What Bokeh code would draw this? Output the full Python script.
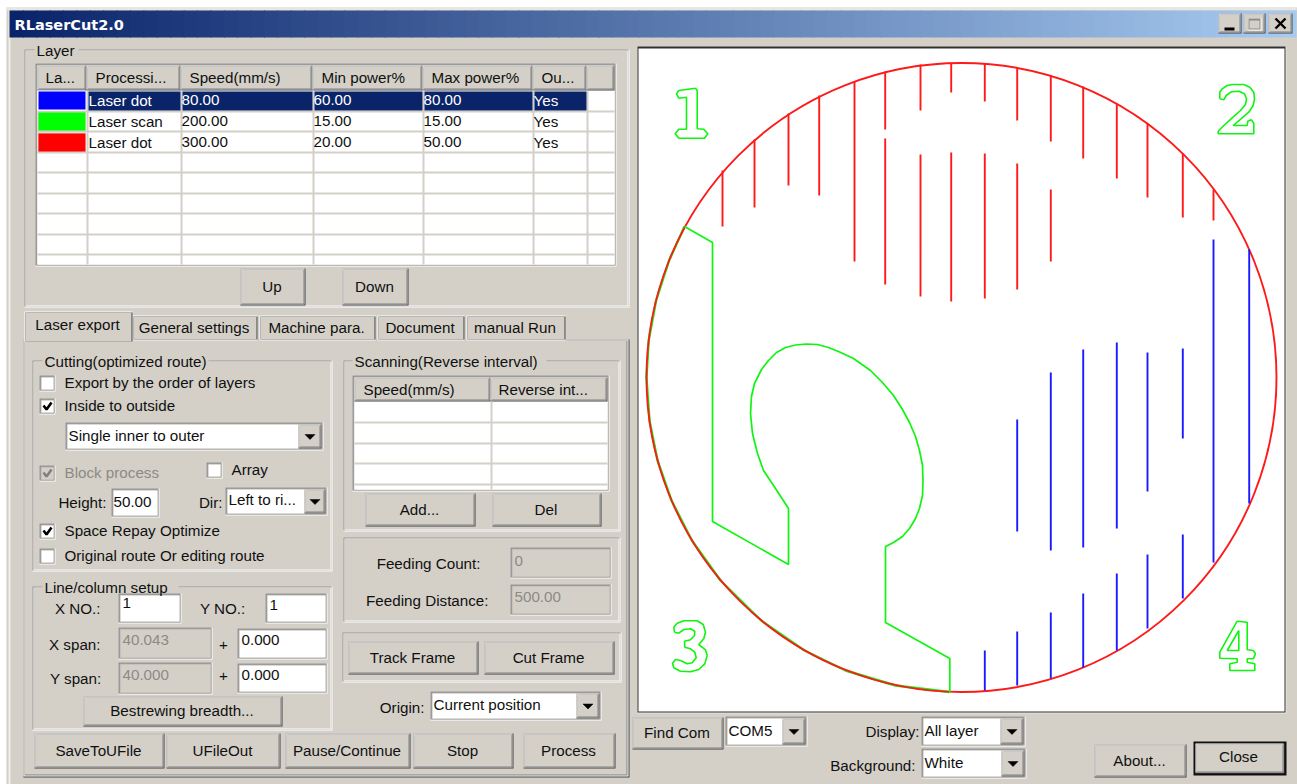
from bokeh.plotting import figure
from bokeh.models import ColumnDataSource
from bokeh.core.properties import value
from bokeh.embed import file_html
from bokeh.resources import INLINE

# ---- table content ----
layer_headers = ["La...", "Processi...", "Speed(mm/s)", "Min power%", "Max power%", "Ou..."]
layer_colors = ["#0000FF", "#00FF00", "#FF0000"]
layer_modes = ["Laser dot", "Laser scan", "Laser dot"]
layer_speeds = ["80.00", "200.00", "300.00"]
layer_min_power = ["60.00", "15.00", "20.00"]
layer_max_power = ["80.00", "15.00", "50.00"]
layer_output = ["Yes", "Yes", "Yes"]
tab_labels = ["Laser export", "General settings", "Machine para.", "Document", "manual Run"]

# ---- drawing (screen pixels of the reference) ----
circle_center = (961, 377)
circle_size = (630, 629)

red_x = [722, 754, 788, 818.7, 854, 884.7, 884.7, 920, 920, 950.7, 950.7, 984.3, 984.3,
         1016.7, 1016.7, 1050.3, 1050.3, 1082.7, 1116.3, 1147, 1182.3, 1213]
red_top = [170, 139, 113, 95, 81, 71, 138, 64, 154, 63, 152, 63, 153, 67, 163, 75, 189, 86, 103, 123, 153, 189]
red_bottom = [226, 207, 185, 195, 261, 129, 284, 110, 296, 92, 301, 101, 298, 120, 289, 141, 261, 158, 178, 197, 217, 220]

blue_x = [984.3, 1016.7, 1016.7, 1050.3, 1050.3, 1082.7, 1082.7, 1116.3, 1116.3, 1147, 1147,
          1182.3, 1182.3, 1213, 1248.7]
blue_top = [650, 419, 631, 372, 612, 349, 593, 342, 573, 352, 554, 348, 534, 239, 249]
blue_bottom = [690, 531, 685, 550, 678, 547, 667, 528, 650, 491, 628, 438, 598, 562, 503]

green_outline_x = [684, 712, 712, 788, 788, 773, 763, 757, 752, 750, 751, 754, 761, 768, 776, 785, 795, 806, 817,
                   828, 838, 853, 870, 882, 893, 902, 909, 915, 919, 922, 922.5, 922, 919, 915, 909, 902, 893, 885,
                   885, 949.3, 949.3]
green_outline_y = [226, 242, 521, 564, 508, 485, 470, 453, 433, 413, 396, 383, 369, 360, 352, 347, 344.5, 343.5, 344,
                   347, 351, 358, 370, 382, 395, 409, 422, 436, 450, 465, 480, 495, 508, 518, 528, 536, 542, 546,
                   622, 658, 692]
green_arc_x = [949, 895, 845, 804, 760.6, 720, 691.4, 671, 657, 649, 646, 648.2, 655.6, 668.6, 684]
green_arc_y = [691.5, 685, 670, 650, 620, 580, 540, 500, 460, 420, 377, 340, 300, 260, 226]

digit_one_x = [695, 696.7, 696.7, 703.3, 707.3, 704, 678.3, 674.7, 678.3, 686, 686, 678.3, 676, 678.3, 695]
digit_one_y = [87.7, 90, 128.3, 128.7, 133.3, 137.7, 137.7, 133.3, 128.7, 128.7, 96.7, 97.7, 93.3, 90, 87.7]
digit_two_x = [1219.3, 1219.3, 1221.7, 1226.7, 1231.7, 1243.3, 1249.3, 1253.3, 1254, 1252.7, 1248.3, 1241.7, 1232.7,
               1246.7, 1247.3, 1250.7, 1253.3, 1253.3, 1217.7, 1217.7, 1223.3, 1231.7, 1240, 1245, 1246, 1244, 1238.3,
               1230.7, 1225.7, 1223.3, 1219.3]
digit_two_y = [98.3, 91.7, 88.3, 85, 84, 84, 86.7, 91.7, 98.3, 105, 111.7, 117.3, 125,
               125, 120.7, 119.3, 122.7, 133.3, 133.3, 130.7, 125, 117.3, 110, 104, 98.3, 93.3, 90.7,
               91.3, 95, 99.3, 98.3]
digit_three_x = [674, 673.3, 676.7, 683.3, 696.7, 702.7, 705, 703.3, 698.3, 705, 706.7, 704.3, 698.3, 690, 680, 673.3,
                 672, 675, 680, 686.7, 691.7, 695.7, 694.3, 690, 684.3, 684, 690, 694, 694.3, 690, 683.3, 678.3, 674]
digit_three_y = [631.7, 626.7, 622.7, 620.3, 620.3, 624, 631.7, 638.3, 644, 649.3, 655, 663.3, 669, 671.3, 670.7, 667.3,
                 662.7, 659, 660, 663.3, 662.3, 657.3, 651.7, 648.3, 646.7, 640.7, 639.3, 635, 630.7, 628.3, 629, 632.7,
                 631.7]
digit_four_x = [1236.7, 1246.7, 1246.7, 1252.7, 1255, 1252.7, 1246.7, 1246.7, 1254.3, 1254.3, 1229.3, 1229.3,
                1236.7, 1236.7, 1219.3, 1219.3, 1236.7]
digit_four_y = [620.7, 621.7, 649.3, 650, 653.3, 658.3, 658.3, 661.7, 663.3, 670, 670, 663.3, 661.7, 658.3, 657.7,
                651.7, 620.7]
digit_four_inner_x = [1238.3, 1238.3, 1226.7, 1238.3]
digit_four_inner_y = [630, 650, 650, 630]

# ---- widgets layer ----
BG, WHITE, MID, DARK, SOFT = "#D4D0C8", "#FFFFFF", "#808080", "#404040", "#A8A59F"
qx0, qy0, qx1, qy1, qc = [], [], [], [], []
tx, ty, ts, tc, ta = [], [], [], [], []


def R(x0, y0, x1, y1, c):
    qx0.append(x0); qy0.append(y0); qx1.append(x1); qy1.append(y1); qc.append(c)


def T(x, y, s, c="#101010", a="left"):
    tx.append(x - 1); ty.append(y - 1.5); ts.append(s); tc.append(c); ta.append(a)


def raised(x0, y0, x1, y1, label=None):
    R(x0, y0, x1, y1, DARK)
    R(x0, y0, x1 - 1, y1 - 1, WHITE)
    R(x0 + 1, y0 + 1, x1 - 1, y1 - 1, MID)
    R(x0 + 1, y0 + 1, x1 - 2, y1 - 2, BG)
    if label:
        T((x0 + x1) / 2, (y0 + y1) / 2 + 0.5, label, a="center")


def sunken(x0, y0, x1, y1, fill=WHITE):
    R(x0, y0, x1, y1, WHITE)
    R(x0, y0, x1 - 1, y1 - 1, MID)
    R(x0 + 1, y0 + 1, x1 - 1, y1 - 1, "#B8B5AE")
    R(x0 + 2, y0 + 2, x1 - 2, y1 - 2, fill)


def etched(x0, y0, x1, y1):
    R(x0, y0, x1, y1, WHITE)
    R(x0, y0, x1 - 1, y1 - 1, MID)
    R(x0 + 1, y0 + 1, x1 - 1, y1 - 1, WHITE)
    R(x0 + 1, y0 + 1, x1 - 2, y1 - 2, BG)


def legend(x0, x1, y, label):
    R(x0, y - 3, x1, y + 3, BG)
    T(x0 + 3, y + 1, label)


arrows_x, arrows_y = [], []


def combo(x0, y0, x1, y1, label, bw=23, ty_=None):
    sunken(x0, y0, x1, y1)
    raised(x1 - bw - 2, y0 + 2, x1 - 2, y1 - 2)
    cx = x1 - 2 - bw / 2
    cy = (y0 + y1) / 2
    arrows_x.append([cx - 5, cx + 5, cx])
    arrows_y.append([cy - 2, cy - 2, cy + 3])
    T(x0 + 4, ty_ if ty_ else cy, label)


checks_x, checks_y, checks_c = [], [], []


def checkbox(x0, y0, label, checked=False, enabled=True, size=16):
    sunken(x0, y0, x0 + size, y0 + size, WHITE if enabled else BG)
    if checked:
        checks_x.append([x0 + 4, x0 + 7, x0 + 12])
        checks_y.append([y0 + 7, y0 + 11, y0 + 4])
        checks_c.append("#000000" if enabled else MID)
    T(x0 + size + 10, y0 + 8, label, "#101010" if enabled else "#8C8A85")


# window
R(6, 7, 1297, 784, BG)
R(6, 7, 1296, 10, "#E8E6E0")
R(8, 10, 10, 784, "#EFEEEA")
steps = 96
c0 = (0x0A, 0x24, 0x6A)
c1 = (0xA6, 0xCA, 0xF0)
for i in range(steps):
    f = i / (steps - 1)
    col = "#%02X%02X%02X" % tuple(round(a + (b - a) * f) for a, b in zip(c0, c1))
    R(9 + (1295 - 9) * i / steps, 10, 9 + (1295 - 9) * (i + 1) / steps + 1, 37, col)

raised(1218, 13, 1241, 33)
R(1224, 27, 1234, 30, "#000000")
raised(1243, 13, 1265, 33)
R(1248, 18, 1261, 30, WHITE)
R(1248, 18, 1260, 29, "#8A8A8A")
R(1249, 20, 1259, 28, BG)
raised(1268, 13, 1292, 33)

# Layer group
etched(24, 49, 629, 307)
legend(34, 78, 50, "Layer")
sunken(35, 63, 616, 266)
R(37, 65, 614, 264, WHITE)
col_edges = [37, 86, 180, 312, 422, 532, 586, 614]
for a, b in zip(col_edges[:-1], col_edges[1:]):
    raised(a, 65, b, 90)
for x_, h in zip([46, 96, 190, 322, 432, 542], layer_headers):
    T(x_, 78, h)
for y_ in [110, 130, 151, 171, 192, 212, 233, 253]:
    R(37, y_, 614, y_ + 2, BG)
for x_ in col_edges[1:-1]:
    R(x_, 90, x_ + 2, 264, BG)
row_y = [90, 111, 132]
R(88, 91, 180, 110, "#0A246A")
R(182, 91, 312, 110, "#0A246A")
R(314, 91, 422, 110, "#0A246A")
R(424, 91, 532, 110, "#0A246A")
R(534, 91, 586, 110, "#0A246A")
for i, col in enumerate(layer_colors):
    R(37, row_y[i], 85, row_y[i] + 20, WHITE if i == 0 else BG)
    R(38, row_y[i] + 1, 85, row_y[i] + 19, col)
for i in range(3):
    y_ = row_y[i] + 11
    c = WHITE if i == 0 else "#101010"
    T(89, y_, layer_modes[i], c)
    T(182, y_, layer_speeds[i], c)
    T(314, y_, layer_min_power[i], c)
    T(424, y_, layer_max_power[i], c)
    T(534, y_, layer_output[i], c)
raised(240, 268, 305, 305, "Up")
raised(342, 268, 408, 305, "Down")

# Tab panel
R(23, 339, 629, 777, DARK)
R(23, 339, 628, 776, WHITE)
R(24, 340, 627, 775, MID)
R(24, 340, 626, 774, BG)
tabs = [(132, 257), (259, 375), (377, 464), (466, 565)]
for (a, b), lab in zip(tabs, tab_labels[1:]):
    R(a, 315, b, 340, WHITE)
    R(a + 1, 316, b, 339, DARK)
    R(a + 1, 316, b - 1, 339, BG)
    T((a + b) / 2, 328, lab, a="center")
R(24, 311, 132, 341, WHITE)
R(25, 312, 132, 341, DARK)
R(25, 312, 131, 341, BG)
T(78, 325, tab_labels[0], a="center")

# Cutting group
etched(32, 360, 332, 571)
legend(42, 208, 361, "Cutting(optimized route)")
checkbox(39, 375, "Export by the order of layers")
checkbox(39, 398, "Inside to outside", checked=True)
combo(65, 422, 323, 450, "Single inner to outer")
checkbox(39, 465, "Block process", checked=True, enabled=False)
checkbox(206, 462, "Array")
T(107, 503, "Height:", a="right")
sunken(111, 488, 159, 517)
T(114, 503, "50.00")
T(223, 503, "Dir:", a="right")
combo(225, 487, 327, 515, "Left to ri...", bw=21, ty_=500)
checkbox(39, 523, "Space Repay Optimize", checked=True)
checkbox(39, 548, "Original route Or editing route")

# Line/column group
etched(32, 586, 332, 730)
legend(42, 178, 587, "Line/column setup")
T(101, 609, "X NO.:", a="right")
sunken(118, 593, 181, 623)
T(123, 604, "1")
T(246, 609, "Y NO.:", a="right")
sunken(265, 593, 327, 623)
T(270, 606, "1")
T(101, 645, "X span:", a="right")
sunken(118, 627, 212, 659, BG)
T(123, 641, "40.043", "#8C8A85")
T(224, 646, "+", a="center")
sunken(237, 628, 327, 659)
T(242, 641, "0.000")
T(102, 679, "Y span:", a="right")
sunken(118, 662, 212, 694, BG)
T(123, 676, "40.000", "#8C8A85")
T(224, 677, "+", a="center")
sunken(237, 663, 327, 693)
T(242, 676, "0.000")
raised(83, 696, 282, 726, "Bestrewing breadth...")
raised(34, 733, 164, 768, "SaveToUFile")
raised(166, 733, 280, 768, "UFileOut")
raised(285, 733, 410, 768, "Pause/Continue")
raised(413, 733, 513, 768, "Stop")
raised(523, 733, 615, 768, "Process")

# Scanning group
etched(343, 360, 620, 531)
legend(352, 546, 361, "Scanning(Reverse interval)")
sunken(352, 375, 609, 491)
R(354, 377, 607, 489, WHITE)
raised(354, 377, 490, 401)
raised(490, 377, 607, 401)
T(364, 390, "Speed(mm/s)")
T(499, 390, "Reverse int...")
for y_ in [421, 442, 462, 483]:
    R(354, y_, 607, y_ + 2, BG)
R(490, 401, 492, 489, BG)
raised(365, 493, 475, 526, "Add...")
raised(492, 493, 601, 526, "Del")

# Feeding group
etched(343, 537, 620, 622)
T(481, 564, "Feeding Count:", a="right")
sunken(510, 547, 611, 578, BG)
T(515, 562, "0", "#8C8A85")
T(489, 601, "Feeding Distance:", a="right")
sunken(510, 584, 611, 615, BG)
T(515, 598, "500.00", "#8C8A85")

# Frame group
etched(342, 632, 621, 682)
raised(348, 641, 478, 674, "Track Frame")
raised(484, 641, 614, 674, "Cut Frame")
T(425, 708, "Origin:", a="right")
combo(430, 691, 601, 720, "Current position", ty_=705)

# Preview canvas
R(637, 46, 1286, 713, "#E8E6E0")
R(637, 46, 1285, 712, "#303030")
R(638, 48, 1284, 711, WHITE)

# Bottom controls
raised(632, 717, 723, 749, "Find Com")
combo(725, 716, 807, 746, "COM5", ty_=731)
T(920, 732, "Display:", a="right")
combo(921, 716, 1025, 746, "All layer", ty_=731)
T(916, 766, "Background:", a="right")
combo(921, 748, 1026, 778, "White", ty_=763)
raised(1094, 744, 1186, 777, "About...")
R(1193, 741, 1286, 775, "#101010")
raised(1195, 743, 1284, 773)
T(1239, 757, "Close", a="center")

# ---- figure ----
p = figure(width=1297, height=784, x_range=(0, 1297), y_range=(784, 0),
           output_backend="svg", toolbar_location=None, min_border=0,
           background_fill_color=WHITE, border_fill_color=WHITE)
p.axis.visible = False
p.grid.visible = False
p.outline_line_color = None

p.quad(left="x0", right="x1", top="y0", bottom="y1", fill_color="c", line_color=None,
       source=ColumnDataSource(dict(x0=qx0, x1=qx1, y0=qy0, y1=qy1, c=qc)))

# close-box cross
p.segment([1275, 1285], [18, 18], [1285, 1275], [28, 28], line_color="#000000", line_width=2.4)

p.patches(arrows_x, arrows_y, fill_color="#000000", line_color="#000000", line_width=0.5)
p.multi_line(checks_x, checks_y, line_color=checks_c, line_width=2.6)

GREEN = "#10F510"
RED = "#FF1A1A"
BLUE = "#1A1AFF"
p.line(green_arc_x, green_arc_y, line_color=GREEN, line_width=2.4)
p.ellipse(x=[circle_center[0]], y=[circle_center[1]], width=[circle_size[0]], height=[circle_size[1]],
          fill_color=None, line_color=RED, line_width=1.9)
p.line(green_outline_x, green_outline_y, line_color=GREEN, line_width=1.7)
for dx, dy in [(digit_one_x, digit_one_y), (digit_two_x, digit_two_y), (digit_three_x, digit_three_y),
               (digit_four_x, digit_four_y), (digit_four_inner_x, digit_four_inner_y)]:
    p.line(dx, dy, line_color=GREEN, line_width=1.6)
p.segment(red_x, red_top, red_x, red_bottom, line_color=RED, line_width=1.9)
p.segment(blue_x, blue_top, blue_x, blue_bottom, line_color=BLUE, line_width=1.9)

sizes = ["15.2px"] * len(ts)
p.text(x="x", y="y", text="s", text_color="c", text_align="a", text_baseline="middle",
       text_font=value("Liberation Sans"), text_font_size="fs",
       source=ColumnDataSource(dict(x=tx, y=ty, s=ts, c=tc, a=ta, fs=sizes)))
p.text(x=[14], y=[24], text=["RLaserCut2.0"], text_color=WHITE,
       text_font=value("DejaVu Sans"), text_font_style="bold", text_font_size="14.5px", text_baseline="middle")

open("out.html", "w").write(file_html(p, INLINE))
